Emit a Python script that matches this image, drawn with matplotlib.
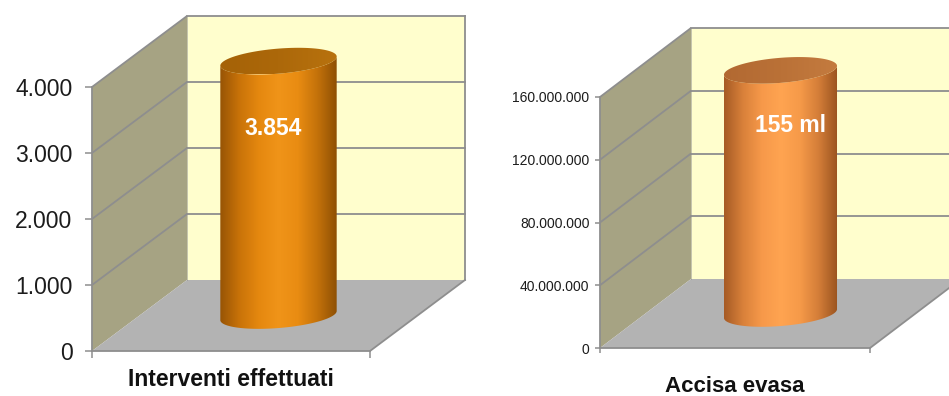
import numpy as np
import matplotlib
matplotlib.use("Agg")
import matplotlib.pyplot as plt
from matplotlib.patches import Polygon, Rectangle
from matplotlib.colors import LinearSegmentedColormap

plt.rcParams['font.family'] = ['Liberation Sans', 'DejaVu Sans']

# data
categories = ["Interventi effettuati", "Accisa evasa"]
values = [3854, 155_000_000]
value_labels = ["3.854", "155 ml"]
y_max = [4000, 160_000_000]
y_step = [1000, 40_000_000]

# look of each panel
BACK = "#FFFECD"
SIDE = "#A6A383"
FLOOR = "#B3B3B3"
GRID = "#8E8E8E"
body_stops = [
    ["#975405", "#C97309", "#E5880F", "#F09419", "#E98C12", "#C4720A", "#8E5004"],
    ["#A65B25", "#D9813A", "#F7994A", "#FFA451", "#F69A49", "#D37D38", "#9A531F"],
]
cap_stops = [
    ["#A56207", "#AC680A", "#B8720E"],
    ["#B26932", "#BA7137", "#C47B3F"],
]


def thousands(v):
    return f"{int(round(v)):,}".replace(",", ".")


def draw_panel(ax, front_w, front_h, depth, ymax, step, value, text, category,
               tick_size, tick_len, tick_pad, bodyc, capc, cat_drop, text_off,
               text_size, cat_size):
    sx = 1.0 / front_w          # data units per pixel
    sy = ymax / front_h
    ddx, ddy = depth[0] * sx, depth[1] * sy
    ax.set_xlim(-0.5, 0.5 + ddx)
    ax.set_ylim(0, ymax + ddy)
    ax.patch.set_visible(False)

    ticks = np.arange(0, ymax + step / 2, step)

    # walls and floor
    ax.add_patch(Rectangle((-0.5 + ddx, ddy), 1, ymax, fc=BACK, ec="none", zorder=0))
    ax.add_patch(Polygon([(-0.5, 0), (-0.5, ymax), (-0.5 + ddx, ymax + ddy),
                          (-0.5 + ddx, ddy)], closed=True, fc=SIDE, ec="none", zorder=0))
    ax.add_patch(Polygon([(-0.5, 0), (0.5, 0), (0.5 + ddx, ddy), (-0.5 + ddx, ddy)],
                         closed=True, fc=FLOOR, ec="none", zorder=0))

    lw = 1.3
    for t in ticks[1:]:
        ax.plot([-0.5, -0.5 + ddx], [t, t + ddy], color=GRID, lw=lw, zorder=1,
                clip_on=False, solid_capstyle="butt")
        ax.plot([-0.5 + ddx, 0.5 + ddx], [t + ddy, t + ddy], color=GRID, lw=lw,
                zorder=1, clip_on=False)
    ax.plot([0.5 + ddx, 0.5 + ddx], [ddy, ymax + ddy], color=GRID, lw=lw, zorder=1,
            clip_on=False)
    ax.plot([-0.5 + ddx, -0.5 + ddx], [ddy, ymax + ddy], color=GRID, lw=0.6,
            zorder=1, clip_on=False, alpha=0.6)
    ax.plot([0.5, 0.5 + ddx], [0, ddy], color=GRID, lw=lw, zorder=1, clip_on=False)

    # cylinder at mid depth
    cx, cy0 = ddx / 2, ddy / 2
    cy1 = value + ddy / 2
    a_px, b_px = 0.21 * front_w, 12.5
    phi = np.deg2rad(4.7)

    def ellipse(cy, t):
        dx = a_px * np.cos(t) * np.cos(phi) - b_px * np.sin(t) * np.sin(phi)
        dy = a_px * np.cos(t) * np.sin(phi) + b_px * np.sin(t) * np.cos(phi)
        return np.column_stack([cx + dx * sx, cy + dy * sy])

    front = np.linspace(np.pi, 2 * np.pi, 120)
    body_pts = np.vstack([ellipse(cy1, front), ellipse(cy0, front[::-1])])
    body = Polygon(body_pts, closed=True, fc="none", ec="none", zorder=2)
    ax.add_patch(body)
    x0, x1 = body_pts[:, 0].min(), body_pts[:, 0].max()
    grad = np.linspace(0, 1, 256)[None, :]
    im = ax.imshow(grad, cmap=LinearSegmentedColormap.from_list("b", bodyc),
                   extent=(x0, x1, body_pts[:, 1].min(), body_pts[:, 1].max()),
                   aspect="auto", interpolation="bicubic", zorder=2)
    im.set_clip_path(body)

    cap_pts = ellipse(cy1, np.linspace(0, 2 * np.pi, 240))
    cap = Polygon(cap_pts, closed=True, fc="none", ec="none", zorder=3)
    ax.add_patch(cap)
    im2 = ax.imshow(grad, cmap=LinearSegmentedColormap.from_list("c", capc),
                    extent=(cap_pts[:, 0].min(), cap_pts[:, 0].max(),
                            cap_pts[:, 1].min(), cap_pts[:, 1].max()),
                    aspect="auto", interpolation="bicubic", zorder=3)
    im2.set_clip_path(cap)

    ax.annotate(text, xy=(cx, cy1), xytext=text_off, textcoords="offset pixels",
                ha="center", va="center", color="white", fontsize=text_size,
                fontweight="bold", zorder=5)

    # axes: front edges only
    for s in ("top", "right"):
        ax.spines[s].set_visible(False)
    for s in ("left", "bottom"):
        ax.spines[s].set_color(GRID)
        ax.spines[s].set_linewidth(1.3)
    ax.spines["left"].set_bounds(0, ymax)
    ax.spines["bottom"].set_bounds(-0.5, 0.5)
    ax.set_yticks(ticks)
    ax.set_yticklabels([thousands(t) for t in ticks])
    ax.tick_params(axis="y", labelsize=tick_size, length=tick_len, width=1.1,
                   color=GRID, pad=tick_pad, labelcolor="#1C1C1C")
    ax.set_xticks([-0.5, 0.5])
    ax.set_xticklabels([])
    ax.tick_params(axis="x", length=tick_len, width=1.1, color=GRID)
    ax.annotate(category, xy=(0, 0), xytext=(0, -cat_drop), textcoords="offset pixels",
                ha="center", va="center", fontsize=cat_size, fontweight="bold",
                color="#111111", annotation_clip=False)


fig = plt.figure(figsize=(9.49, 3.96), dpi=100)
W, H = 949, 396

# left panel: front face 278 x 264 px, depth offset 95 x 71 px
ax1 = fig.add_axes([92 / W, 45 / H, (278 + 95) / W, (264 + 71) / H])
draw_panel(ax1, 278, 264, (95, 71), y_max[0], y_step[0], values[0], value_labels[0],
           categories[0], 16.5, 5, 9, body_stops[0], cap_stops[0], 28, (-5, -67),
           16.5, 16.5)

# right panel: front face 270 x 251 px, depth offset 91 x 69 px
ax2 = fig.add_axes([600 / W, 48 / H, (270 + 91) / W, (251 + 69) / H])
draw_panel(ax2, 270, 251, (91, 69), y_max[1], y_step[1], values[1], value_labels[1],
           categories[1], 10, 3.5, 4, body_stops[1], cap_stops[1], 39, (10, -55),
           16.5, 16)

fig.savefig("out.png", dpi=100, facecolor="white")
